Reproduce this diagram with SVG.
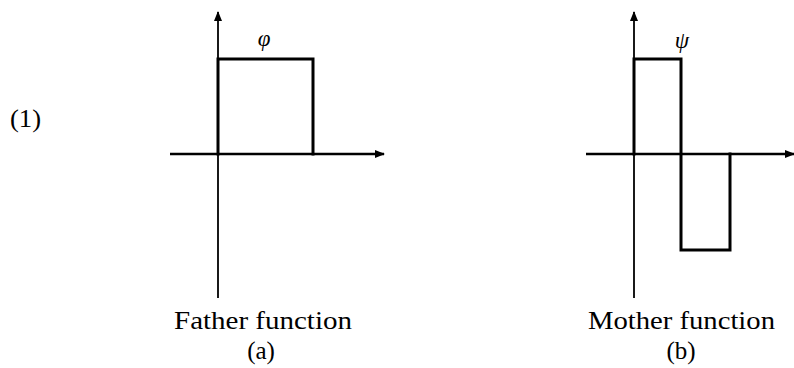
<svg xmlns="http://www.w3.org/2000/svg" width="794" height="368" viewBox="0 0 794 368">
<style>
.ax{stroke:#000;fill:none}
.fn{stroke:#000;stroke-width:3;fill:none;stroke-linejoin:miter;stroke-linecap:square}
text{font-family:"Liberation Serif","DejaVu Serif",serif;font-size:25px;fill:#000}
.m{font-style:italic;font-size:23px}
</style>
<defs>
<marker id="ah" viewBox="0 0 10 8" refX="9" refY="4" markerWidth="10" markerHeight="8" markerUnits="userSpaceOnUse" orient="auto">
<path d="M0,0 L10,4 L0,8 Z" fill="#000"/>
</marker>
</defs>
<text x="10" y="127" textLength="31" lengthAdjust="spacingAndGlyphs">(1)</text>
<g id="father">
<g id="father-axes">
<line class="ax" x1="218" y1="298" x2="218" y2="12" stroke-width="1.8" marker-end="url(#ah)"/>
<line class="ax" x1="170" y1="154" x2="384" y2="154" stroke-width="2.6" marker-end="url(#ah)"/>
</g>
<polyline class="fn" points="218,154 218,59 313,59 313,154"/>
<text class="m" x="264" y="46" text-anchor="middle">φ</text>
<text x="174" y="329" textLength="178" lengthAdjust="spacingAndGlyphs">Father function</text>
<text x="261" y="359" text-anchor="middle">(a)</text>
</g>
<g id="mother">
<g id="mother-axes">
<line class="ax" x1="634" y1="298" x2="634" y2="12" stroke-width="1.8" marker-end="url(#ah)"/>
<line class="ax" x1="586" y1="154" x2="794" y2="154" stroke-width="2.6" marker-end="url(#ah)"/>
</g>
<polyline class="fn" points="634,154 634,59 681,59 681,250 730,250 730,154"/>
<text class="m" x="682" y="48" text-anchor="middle">ψ</text>
<text x="588" y="329" textLength="187" lengthAdjust="spacingAndGlyphs">Mother function</text>
<text x="681" y="359" text-anchor="middle">(b)</text>
</g>
</svg>
